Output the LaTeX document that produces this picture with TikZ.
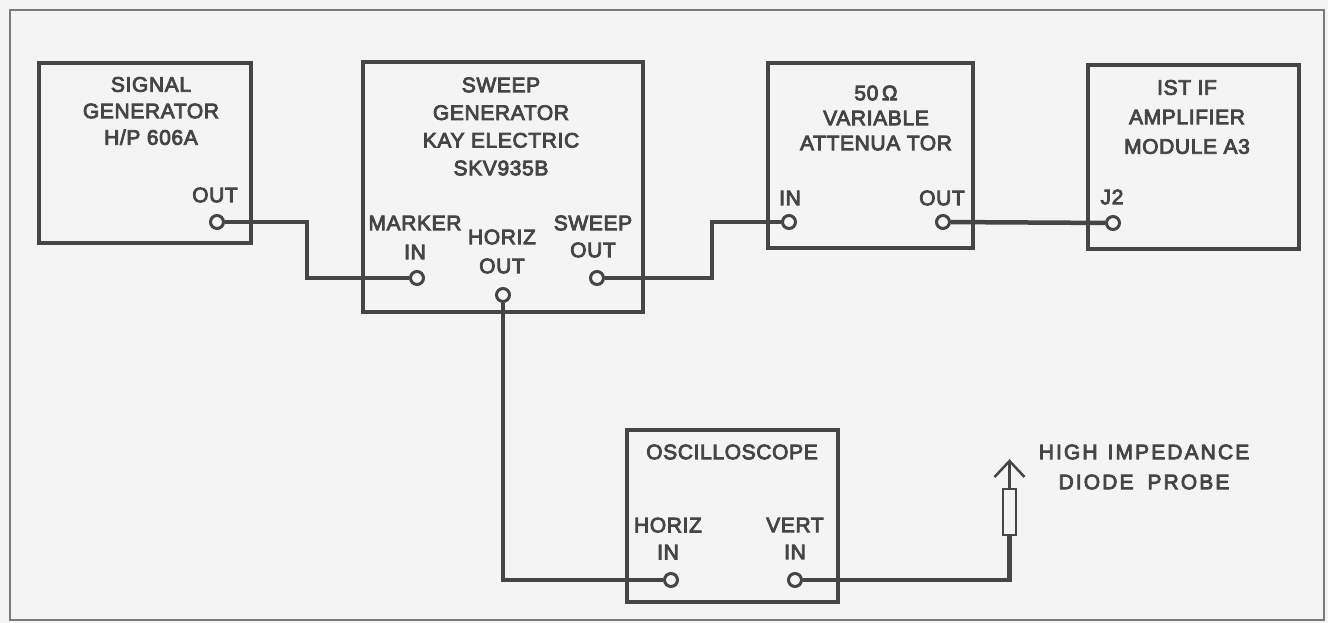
\documentclass[tikz,border=0pt]{standalone}
\usepackage{fontspec}
\setmainfont{Liberation Sans}
\newfontfamily\lett{Liberation Sans}[RawFeature={embolden=4},LetterSpace=3]
\newfontfamily\lettwide{Liberation Sans}[RawFeature={embolden=4},LetterSpace=10]
\usetikzlibrary{calc}
\definecolor{ink}{HTML}{454545}
\definecolor{paper}{HTML}{F4F4F4}
\definecolor{framecol}{HTML}{7A7A7A}
\begin{document}
\begin{tikzpicture}[x=1pt,y=-1pt,
  unitbox/.style={draw=ink,line width=3.5pt,inner sep=0pt,outer sep=0pt},
  port/.style={circle,draw=ink,fill=paper,line width=3pt,minimum size=13pt,inner sep=0pt},
  wire/.style={draw=ink,line width=4.5pt},
  lbl/.style={text=ink,font=\lett\fontsize{21}{#1}\selectfont,inner sep=0pt,align=center},
  lbl/.default=27,
  probebox/.style={draw=ink,fill=paper,line width=2.5pt,minimum width=13pt,minimum height=46pt,inner sep=0pt},
  probeline/.style={draw=ink,line width=2.5pt},
]
\useasboundingbox[fill=paper] (0,0) rectangle (1328,623);
\draw[framecol,line width=2pt] (10,10) rectangle (1324,620);

% boxes
\node[unitbox,minimum width=212pt,minimum height=180pt] (sg) at (145,153) {};
\node[unitbox,minimum width=280pt,minimum height=250pt] (sw) at (503,187) {};
\node[unitbox,minimum width=205pt,minimum height=185pt] (att) at (870.5,155.5) {};
\node[unitbox,minimum width=211pt,minimum height=184pt] (ifa) at (1193.5,157) {};
\node[unitbox,minimum width=211pt,minimum height=172pt] (osc) at (732.5,516) {};

% titles
\node[lbl=26.5] (sgt) at (151,111) {SIGNAL\\GENERATOR\\H/P 606A};
\node[lbl=27.7] (swt) at (501,126.5) {SWEEP\\GENERATOR\\KAY ELECTRIC\\SKV935B};
\node[lbl=25] (attt) at (876,118) {50\,Ω\\VARIABLE\\ATTENUA TOR};
\node[lbl=29.5] (ifat) at (1187,117) {IST IF\\AMPLIFIER\\MODULE A3};
\node[lbl] (osct) at (732,452) {OSCILLOSCOPE};

% port labels
\node[lbl] (sgoutl) at (215,195) {OUT};
\node[lbl=29] (mkinl) at (415,237.5) {MARKER\\IN};
\node[lbl=29] (hzoutl) at (502,251.5) {HORIZ\\OUT};
\node[lbl=27] (swoutl) at (593,236.5) {SWEEP\\OUT};
\node[lbl] (attinl) at (790,198) {IN};
\node[lbl] (attoutl) at (942,198) {OUT};
\node[lbl] (j2l) at (1112,197) {J2};
\node[lbl=27] (hzinl) at (668,538.5) {HORIZ\\IN};
\node[lbl=27] (vtinl) at (795,538.5) {VERT\\IN};
\node[text=ink,font=\lettwide\fontsize{21}{30}\selectfont,inner sep=0pt,align=center] (probet) at (1144,467) {HIGH\hspace{10pt}IMPEDANCE\\DIODE\hspace{14pt}PROBE};

% ports
\node[port] (sgout) at (217,222) {};
\node[port] (mkin) at (417,278) {};
\node[port] (hzout) at (503,295) {};
\node[port] (swout) at (597,278) {};
\node[port] (attin) at (789,222) {};
\node[port] (attout) at (943,222) {};
\node[port] (j2) at (1113,223) {};
\node[port] (hzin) at (671,580) {};
\node[port] (vtin) at (795,580) {};

% probe
\node[probebox] (probe) at (1009.5,512) {};
\coordinate (tip) at (1009.5,461);

% wires
\draw[wire] (sgout) -- ++(90,0) |- (mkin);
\draw[wire] (swout) -- ++(115,0) |- (attin);
\draw[wire] (attout) -- (j2);
\draw[wire] (hzout) |- (hzin);
\draw[wire] (vtin) -| (probe.south);
\draw[probeline] (probe.north) -- (tip);
\draw[probeline,line join=miter] (tip) ++(-15,16) -- (tip) -- ++(15,16);
\end{tikzpicture}
\end{document}
